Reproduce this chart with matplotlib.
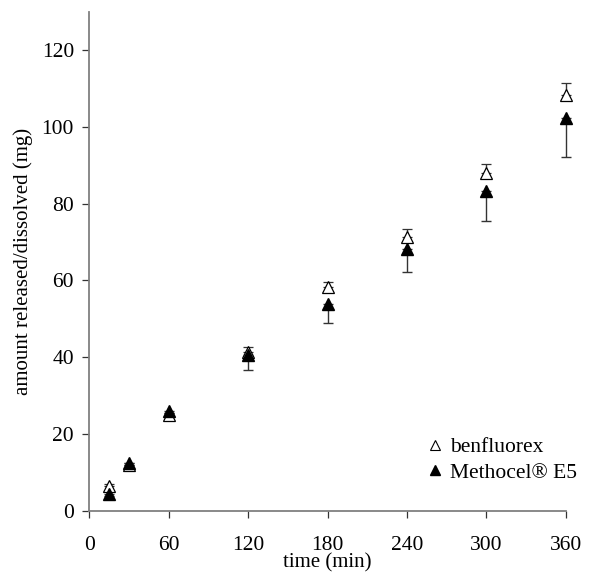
import numpy as np
import matplotlib.pyplot as plt
from matplotlib.lines import Line2D

# release data
time_min = [15, 30, 60, 120, 180, 240, 300, 360]
benfluorex = [6.6, 12.0, 25.0, 41.5, 58.3, 71.4, 88.0, 108.3]
benfluorex_err = [0.5, 0.5, 0.6, 1.2, 1.4, 2.0, 2.4, 3.0]
methocel = [4.4, 12.4, 26.0, 40.6, 53.8, 68.1, 83.4, 102.3]
methocel_err = [0.5, 0.5, 0.6, 3.9, 4.8, 5.8, 7.9, 10.1]

x_ticks = [0, 60, 120, 180, 240, 300, 360]
y_ticks = [0, 20, 40, 60, 80, 100, 120]

plt.rcParams['font.family'] = ['Liberation Serif', 'DejaVu Serif']

fig = plt.figure(figsize=(6.01, 5.78), dpi=100)
ax = fig.add_axes([0.1486, 0.116, 0.7928, 0.864])

zeros = np.zeros(len(time_min))

# open triangles, upper bars only
ax.errorbar(time_min, benfluorex, yerr=[zeros, benfluorex_err], fmt='^',
            mfc='white', mec='black', mew=0.9, ms=8.5, ecolor='#333333',
            elinewidth=1.0, capsize=3.5, capthick=1.0, zorder=3, clip_on=False)
# filled triangles, lower bars only
ax.errorbar(time_min, methocel, yerr=[methocel_err, zeros], fmt='^',
            mfc='black', mec='black', ms=8.5, ecolor='#333333',
            elinewidth=1.0, capsize=3.5, capthick=1.0, zorder=4, clip_on=False)

ax.set_xlim(0, 360)
ax.set_ylim(0, 130)
ax.set_xticks(x_ticks)
ax.set_yticks(y_ticks)
ax.tick_params(direction='out', length=5, width=0.9, color='#333333',
               labelsize=15.5, pad=6)
ax.tick_params(axis='x', pad=13)

for side in ['top', 'right']:
    ax.spines[side].set_visible(False)
for side in ['left', 'bottom']:
    ax.spines[side].set_color('#808080')
    ax.spines[side].set_linewidth(1.3)

ax.set_xlabel('time (min)', fontsize=15, labelpad=-1)
ax.set_ylabel('amount released/dissolved (mg)', fontsize=15, labelpad=6)

handles = [
    Line2D([], [], ls='none', marker='^', mfc='white', mec='black', mew=0.8, ms=6.5),
    Line2D([], [], ls='none', marker='^', mfc='black', mec='black', ms=6.5),
]
ax.legend(handles, ['benfluorex', 'Methocel® E5'], loc='lower right',
          bbox_to_anchor=(1.055, 0.026), frameon=False, fontsize=15.5,
          handlelength=0.8, handletextpad=0.3, labelspacing=0.25,
          borderpad=0.2)

fig.savefig('out.png', dpi=100)
